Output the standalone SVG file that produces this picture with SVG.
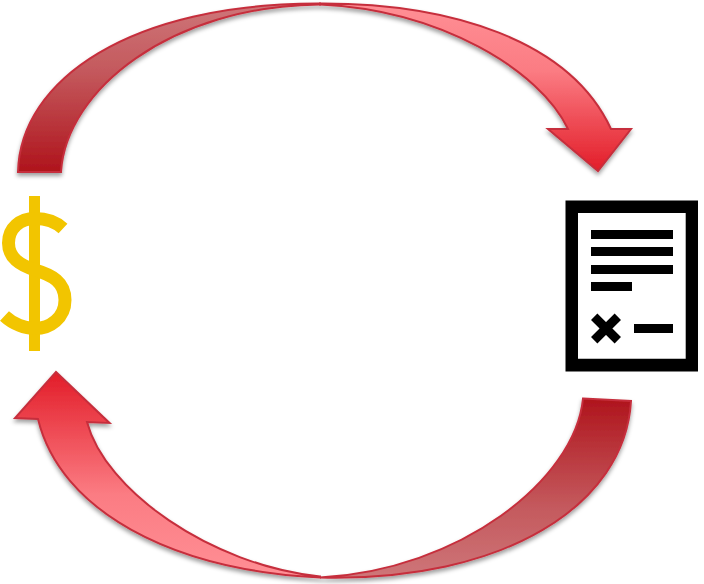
<svg xmlns="http://www.w3.org/2000/svg" width="704" height="584" viewBox="0 0 704 584">
<defs>
<linearGradient id="dark1" gradientUnits="userSpaceOnUse" x1="0" y1="172" x2="0" y2="3"><stop offset="0" stop-color="#AF141C"/><stop offset="0.6" stop-color="#C4595D"/><stop offset="1" stop-color="#CE7679"/></linearGradient>
<linearGradient id="dark2" gradientUnits="userSpaceOnUse" x1="0" y1="398" x2="0" y2="579"><stop offset="0" stop-color="#AF141C"/><stop offset="0.6" stop-color="#C4595D"/><stop offset="1" stop-color="#CE7679"/></linearGradient>
<linearGradient id="light1" gradientUnits="userSpaceOnUse" x1="0" y1="3" x2="0" y2="172"><stop offset="0" stop-color="#FF8F95"/><stop offset="0.4" stop-color="#FB7C83"/><stop offset="1" stop-color="#E21C28"/></linearGradient>
<linearGradient id="light2" gradientUnits="userSpaceOnUse" x1="0" y1="577" x2="0" y2="371"><stop offset="0" stop-color="#FF8F95"/><stop offset="0.4" stop-color="#FB7C83"/><stop offset="1" stop-color="#E21C28"/></linearGradient>
<filter id="shadow" x="-10%" y="-10%" width="120%" height="120%"><feDropShadow dx="0" dy="3" stdDeviation="2.2" flood-color="#000" flood-opacity="0.38"/></filter>
</defs>
<style>
.arc{stroke:#C62F3C;stroke-width:2;stroke-linejoin:miter;stroke-miterlimit:6}
.ink{fill:#000}
</style>
<g id="connectors">
<g id="arrow-top" filter="url(#shadow)">
<path class="arc" fill="url(#dark1)" d="M18,172 C20,80 130,3 320,3.500 L320,4.500 C170,6 66,90 61,172 Z"/>
<path class="arc" fill="url(#light1)" d="M320,3.500 C450,3 570,40 611,129 L631,129 L598,171 L548,129 L568,129 C540,70 440,10 320,4.500 Z"/>
</g>
<g id="arrow-bottom" filter="url(#shadow)">
<path class="arc" fill="url(#dark2)" d="M583,398.500 L631,401 C625,505 505,582 320,577.500 C460,570 575,480 583,398.500 Z"/>
<path class="arc" fill="url(#light2)" d="M320,577.500 C170,570 60,510 38,419 L15,418 L56,372 L109.500,423 L87,422 C105,490 210,565 320,576.500 Z"/>
</g>
</g>
<g id="dollar">
<path d="M34.500,196 V351" fill="none" stroke="#F2C500" stroke-width="11"/>
<path d="M63,228.500 C56,222 46,218.500 35,218.500 C20,218.500 8.500,228 8.500,243 C8.500,258 20,265 35,270 C52,275 65,282 65,300 C65,318 50,328.500 35,328.500 C25,328.500 13,324 4.500,316" fill="none" stroke="#F2C500" stroke-width="13"/>
</g>
<g id="document">
<path class="ink" fill-rule="evenodd" d="M565.500,200.500 H698 V371.500 H565.500 Z M578,213 V358.700 H685.700 V213 Z"/>
<rect class="ink" x="591" y="230" width="82" height="9"/>
<rect class="ink" x="591" y="247" width="82" height="9"/>
<rect class="ink" x="591" y="265" width="82" height="9"/>
<rect class="ink" x="591" y="282" width="41" height="9"/>
<rect class="ink" x="634" y="324" width="39" height="9"/>
<path d="M594.200,316.700 L617.800,340.300 M617.800,316.700 L594.200,340.300" fill="none" stroke="#000" stroke-width="9"/>
</g>
</svg>
